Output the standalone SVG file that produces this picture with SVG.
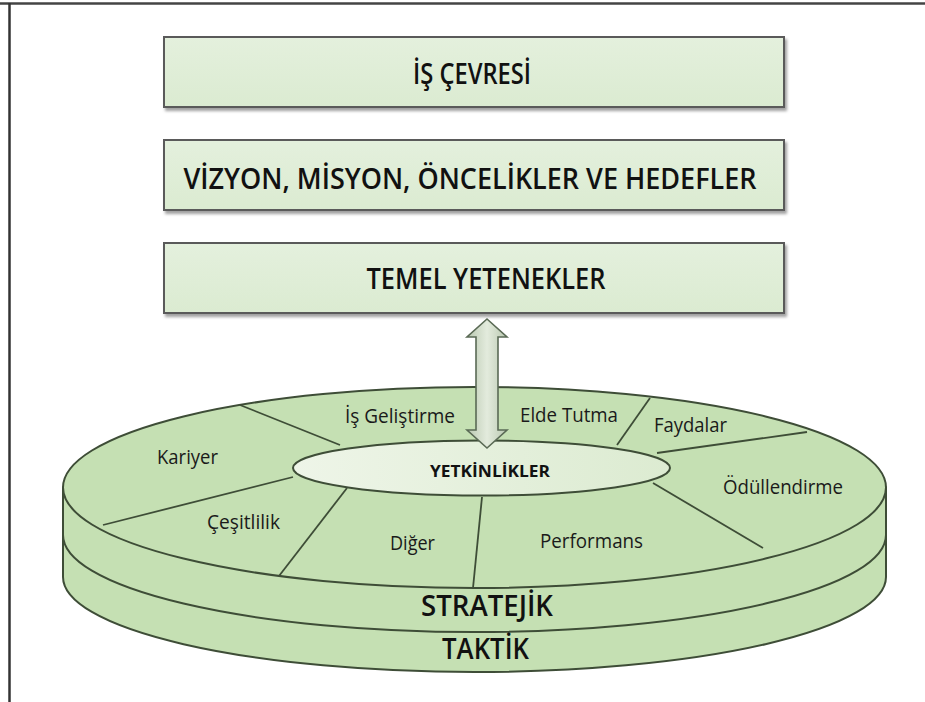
<svg xmlns="http://www.w3.org/2000/svg" width="925" height="702" viewBox="0 0 925 702">
  <defs>
    <linearGradient id="boxFill" x1="0" y1="0" x2="0" y2="1">
      <stop offset="0" stop-color="#e4f0dd"/>
      <stop offset="1" stop-color="#dbebd1"/>
    </linearGradient>
    <linearGradient id="coreFill" x1="0" y1="0" x2="1" y2="0">
      <stop offset="0" stop-color="#eef5e8"/>
      <stop offset="1" stop-color="#dcebd1"/>
    </linearGradient>
    <linearGradient id="arrowFill" x1="0" y1="0" x2="1" y2="0">
      <stop offset="0" stop-color="#b9c8b0"/>
      <stop offset="0.5" stop-color="#e3ebdd"/>
      <stop offset="1" stop-color="#b9c8b0"/>
    </linearGradient>
    <filter id="shadow" x="-5%" y="-20%" width="110%" height="150%">
      <feDropShadow dx="2" dy="3" stdDeviation="1.6" flood-color="#777" flood-opacity="0.7"/>
    </filter>
  </defs>
  <style>
    .box { fill: url(#boxFill); stroke: #5a5a5a; stroke-width: 2; }
    .head { font-family: "Open Sans", "DejaVu Sans", sans-serif; font-weight: 600; font-size: 28px; fill: #111; text-anchor: middle; }
    .lbl { font-family: "Open Sans", "DejaVu Sans", sans-serif; font-size: 20px; fill: #1a1a1a; text-anchor: middle; }
    .disk { fill: #c5e0b3; stroke: #3e4d37; stroke-width: 2; }
    .seam { fill: none; stroke: #3e4d37; stroke-width: 2; }
    .div { fill: none; stroke: #3e4d37; stroke-width: 1.8; }
  </style>

  <rect width="925" height="702" fill="#fff"/>
  <!-- outer frame (top and left rules) -->
  <line x1="0" y1="3.5" x2="925" y2="3.5" stroke="#444" stroke-width="2.5"/>
  <line x1="9.5" y1="3" x2="9.5" y2="702" stroke="#333" stroke-width="2.5"/>

  <!-- stacked header boxes -->
  <g id="is-cevresi">
    <rect class="box" x="164" y="37" width="620" height="70" filter="url(#shadow)"/>
    <text class="head" x="472" y="84" textLength="118" lengthAdjust="spacingAndGlyphs">İŞ ÇEVRESİ</text>
  </g>
  <g id="vizyon">
    <rect class="box" x="164" y="140" width="620" height="70" filter="url(#shadow)"/>
    <text class="head" x="470" y="189" textLength="573" lengthAdjust="spacingAndGlyphs">VİZYON, MİSYON, ÖNCELİKLER VE HEDEFLER</text>
  </g>
  <g id="temel-yetenekler">
    <rect class="box" x="164" y="243" width="620" height="70" filter="url(#shadow)"/>
    <text class="head" x="486" y="289" textLength="239" lengthAdjust="spacingAndGlyphs">TEMEL YETENEKLER</text>
  </g>

  <!-- competency disk -->
  <g id="disk">
    <path class="disk" d="M63 487.5 V577 A411.5 95 0 0 0 886 577 V487.5 Z"/>
    <path class="seam" d="M63 535 A411.5 97 0 0 0 886 535"/>
    <ellipse class="disk" cx="474.5" cy="487.5" rx="411.5" ry="100.5"/>
  </g>

  <g id="segments">
    <path class="div" d="M240 405 L340 445"/>
    <path class="div" d="M293 477 L103 525"/>
    <path class="div" d="M347 488 L279 576"/>
    <path class="div" d="M482 497 L473 588"/>
    <path class="div" d="M650 398 L617 445"/>
    <path class="div" d="M807 432 L657 453"/>
    <path class="div" d="M653 483 L763 548"/>
  </g>

  <g id="yetkinlikler">
    <ellipse cx="481.5" cy="468" rx="188.5" ry="27.5" fill="url(#coreFill)" stroke="#3e4d37" stroke-width="2"/>
    <text x="490" y="477" font-family="Open Sans, DejaVu Sans, sans-serif" font-weight="bold" font-size="16" fill="#111" text-anchor="middle" textLength="120" lengthAdjust="spacingAndGlyphs">YETKİNLİKLER</text>
  </g>

  <g id="labels">
    <text class="lbl" x="400" y="423" textLength="110" lengthAdjust="spacingAndGlyphs">İş Geliştirme</text>
    <text class="lbl" x="569" y="422" textLength="98" lengthAdjust="spacingAndGlyphs">Elde Tutma</text>
    <text class="lbl" x="690.5" y="432" textLength="73" lengthAdjust="spacingAndGlyphs">Faydalar</text>
    <text class="lbl" x="187.5" y="464" textLength="61" lengthAdjust="spacingAndGlyphs">Kariyer</text>
    <text class="lbl" x="783" y="494" textLength="120" lengthAdjust="spacingAndGlyphs">Ödüllendirme</text>
    <text class="lbl" x="243.5" y="529" textLength="73" lengthAdjust="spacingAndGlyphs">Çeşitlilik</text>
    <text class="lbl" x="412.5" y="550" textLength="45" lengthAdjust="spacingAndGlyphs">Diğer</text>
    <text class="lbl" x="591.5" y="548" textLength="103" lengthAdjust="spacingAndGlyphs">Performans</text>
  </g>

  <g id="stratejik">
    <text class="head" x="487" y="616" textLength="132" lengthAdjust="spacingAndGlyphs">STRATEJİK</text>
  </g>
  <g id="taktik">
    <text class="head" x="485.5" y="659" textLength="87" lengthAdjust="spacingAndGlyphs">TAKTİK</text>
  </g>

  <!-- two-way link between the disk and TEMEL YETENEKLER -->
  <g id="connectors">
    <path d="M487 319 L507 337 L498 337 L498 430 L507 430 L487 448 L467 430 L476 430 L476 337 L467 337 Z" fill="url(#arrowFill)" stroke="#5a6a55" stroke-width="1.6" stroke-linejoin="miter"/>
  </g>
</svg>
